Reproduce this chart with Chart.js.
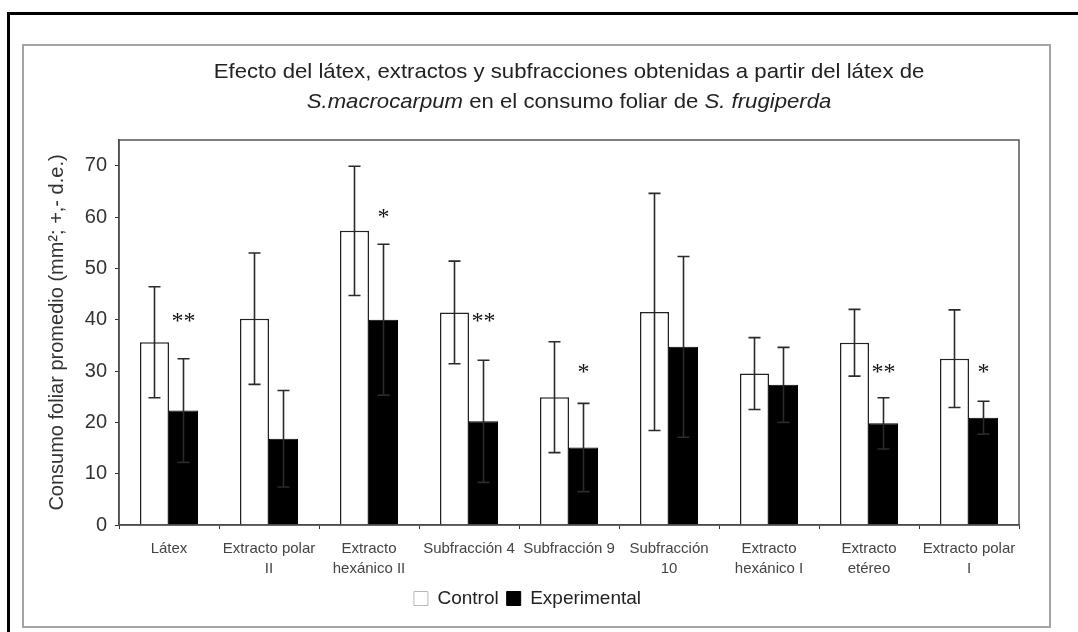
<!DOCTYPE html>
<html>
<head>
<meta charset="utf-8">
<script src="https://cdn.jsdelivr.net/npm/chart.js@4.4.1/dist/chart.umd.min.js"></script>
<style>
    html, body { margin: 0; padding: 0; background: #fff; overflow: hidden; }
    #outer { position: absolute; left: 7px; top: 12px; width: 1200px; height: 800px; border: 3px solid #000; }
    #frame { position: absolute; left: 22px; top: 44px; width: 1025px; height: 580px; border: 2px solid #a3a3a3; background: #fff; }
    #chart { position: absolute; left: 0; top: 0; }
</style>
</head>
<body>
<div id="outer"></div>
<div id="frame"><canvas id="chart" width="1025" height="580"></canvas></div>
<script>
const categories = [
    ['Látex'],
    ['Extracto polar', 'II'],
    ['Extracto', 'hexánico II'],
    ['Subfracción 4'],
    ['Subfracción 9'],
    ['Subfracción', '10'],
    ['Extracto', 'hexánico I'],
    ['Extracto', 'etéreo'],
    ['Extracto polar', 'I'],
];
const controlMean = [35.6, 40.2, 57.3, 41.4, 24.9, 41.5, 29.5, 35.5, 32.4];
const controlSD = [10.8, 12.8, 12.6, 10.0, 10.8, 23.1, 7.0, 6.5, 9.5];
const experimentalMean = [22.3, 16.8, 40.0, 20.2, 15.1, 34.7, 27.3, 19.8, 20.9];
const experimentalSD = [10.1, 9.4, 14.7, 11.9, 8.6, 17.6, 7.3, 5.0, 3.2];
const sigMarks = ['**', '', '*', '**', '*', '', '', '**', '*'];
const sigLevel = [40.0, null, 60.1, 40.0, 29.9, null, null, 29.9, 29.9];
const yTicks = [0, 10, 20, 30, 40, 50, 60, 70];

const titleLines = [
    [{ text: 'Efecto del látex, extractos y subfracciones obtenidas a partir del látex de', italic: false }],
    [
        { text: 'S.macrocarpum', italic: true },
        { text: ' en el consumo foliar de ', italic: false },
        { text: 'S. frugiperda', italic: true },
    ],
];

const fontFamily = '"Liberation Sans", Arial, sans-serif';

const errorBars = {
    id: 'errorBars',
    afterDatasetsDraw(chart) {
        const ctx = chart.ctx;
        const y = chart.scales.y;
        const sds = [controlSD, experimentalSD];
        ctx.save();
        ctx.strokeStyle = '#2a2a2a';
        ctx.lineWidth = 1.6;
        chart.data.datasets.forEach((ds, di) => {
            chart.getDatasetMeta(di).data.forEach((bar, i) => {
                const mean = ds.data[i];
                const sd = sds[di][i];
                const top = y.getPixelForValue(mean + sd);
                const bottom = y.getPixelForValue(mean - sd);
                const x = bar.x;
                ctx.beginPath();
                ctx.moveTo(x, top);
                ctx.lineTo(x, bottom);
                ctx.moveTo(x - 6, top);
                ctx.lineTo(x + 6, top);
                ctx.moveTo(x - 6, bottom);
                ctx.lineTo(x + 6, bottom);
                ctx.stroke();
            });
        });

        // significance marks over the experimental bars
        ctx.fillStyle = '#111';
        ctx.font = '24px "Liberation Serif", "Times New Roman", serif';
        ctx.textAlign = 'center';
        ctx.textBaseline = 'middle';
        const expBars = chart.getDatasetMeta(1).data;
        sigMarks.forEach((mark, i) => {
            if (!mark) return;
            ctx.fillText(mark, expBars[i].x, y.getPixelForValue(sigLevel[i] - 0.3));
        });

        // frame around the plot area
        const a = chart.chartArea;
        ctx.strokeStyle = '#555';
        ctx.lineWidth = 1.5;
        ctx.strokeRect(a.left, a.top, a.right - a.left, a.bottom - a.top);
        ctx.restore();
    },
};

const mixedTitle = {
    id: 'mixedTitle',
    afterDraw(chart) {
        const ctx = chart.ctx;
        const a = chart.chartArea;
        const cx = (a.left + a.right) / 2;
        const ys = [26.5, 56];
        const stretch = 1.055;
        ctx.save();
        ctx.fillStyle = '#222';
        ctx.textBaseline = 'middle';
        ctx.textAlign = 'left';
        titleLines.forEach((line, li) => {
            const widths = line.map((part) => {
                ctx.font = (part.italic ? 'italic ' : '') + '21px ' + fontFamily;
                return ctx.measureText(part.text).width;
            });
            const total = widths.reduce((s, w) => s + w, 0);
            ctx.save();
            ctx.translate(cx - (total * stretch) / 2, ys[li]);
            ctx.scale(stretch, 1);
            let x = 0;
            line.forEach((part, pi) => {
                ctx.font = (part.italic ? 'italic ' : '') + '21px ' + fontFamily;
                ctx.fillText(part.text, x, 0);
                x += widths[pi];
            });
            ctx.restore();
        });
        ctx.restore();
    },
};

new Chart(document.getElementById('chart'), {
    type: 'bar',
    data: {
        labels: categories,
        datasets: [
            {
                label: 'Control',
                data: controlMean,
                backgroundColor: '#ffffff',
                borderColor: '#222',
                borderWidth: 1.5,
            },
            {
                label: 'Experimental',
                data: experimentalMean,
                backgroundColor: '#000000',
                borderColor: '#000000',
                borderWidth: 1,
            },
        ],
    },
    options: {
        responsive: false,
        animation: false,
        devicePixelRatio: 1,
        categoryPercentage: 0.58,
        barPercentage: 1.0,
        layout: { padding: { left: 12, right: 30, top: 94, bottom: 8 } },
        plugins: {
            title: { display: false },
            tooltip: { enabled: false },
            legend: {
                position: 'bottom',
                labels: {
                    boxWidth: 14,
                    boxHeight: 14,
                    padding: 8,
                    color: '#222',
                    font: { family: fontFamily, size: 19 },
                    generateLabels(chart) {
                        const items = Chart.defaults.plugins.legend.labels.generateLabels(chart);
                        items.forEach((item, i) => {
                            item.strokeStyle = i === 0 ? '#b8b8b8' : '#000';
                            item.lineWidth = 1;
                        });
                        return items;
                    },
                },
            },
        },
        scales: {
            x: {
                grid: {
                    display: true,
                    drawOnChartArea: false,
                    drawTicks: true,
                    tickLength: 4,
                    color: '#333',
                    offset: true,
                },
                border: { display: true, color: '#333', width: 1.5 },
                ticks: {
                    color: '#444',
                    padding: 10,
                    maxRotation: 0,
                    autoSkip: false,
                    font: { family: fontFamily, size: 15, lineHeight: '20px' },
                },
                afterFit(scale) {
                    scale.height = 56;
                },
            },
            y: {
                min: 0,
                max: 75,
                afterBuildTicks(scale) {
                    scale.ticks = yTicks.map((v) => ({ value: v }));
                },
                grid: {
                    display: true,
                    drawOnChartArea: false,
                    drawTicks: true,
                    tickLength: 4,
                    color: '#333',
                },
                border: { display: true, color: '#333', width: 1.5 },
                ticks: {
                    color: '#333',
                    padding: 8,
                    font: { family: fontFamily, size: 20 },
                },
                title: {
                    display: true,
                    text: 'Consumo foliar promedio (mm²; +,- d.e.)',
                    color: '#333',
                    padding: { top: 9, bottom: 0 },
                    font: { family: fontFamily, size: 20 },
                },
                afterFit(scale) {
                    scale.width = 83;
                },
            },
        },
    },
    plugins: [errorBars, mixedTitle],
});
</script>
</body>
</html>
